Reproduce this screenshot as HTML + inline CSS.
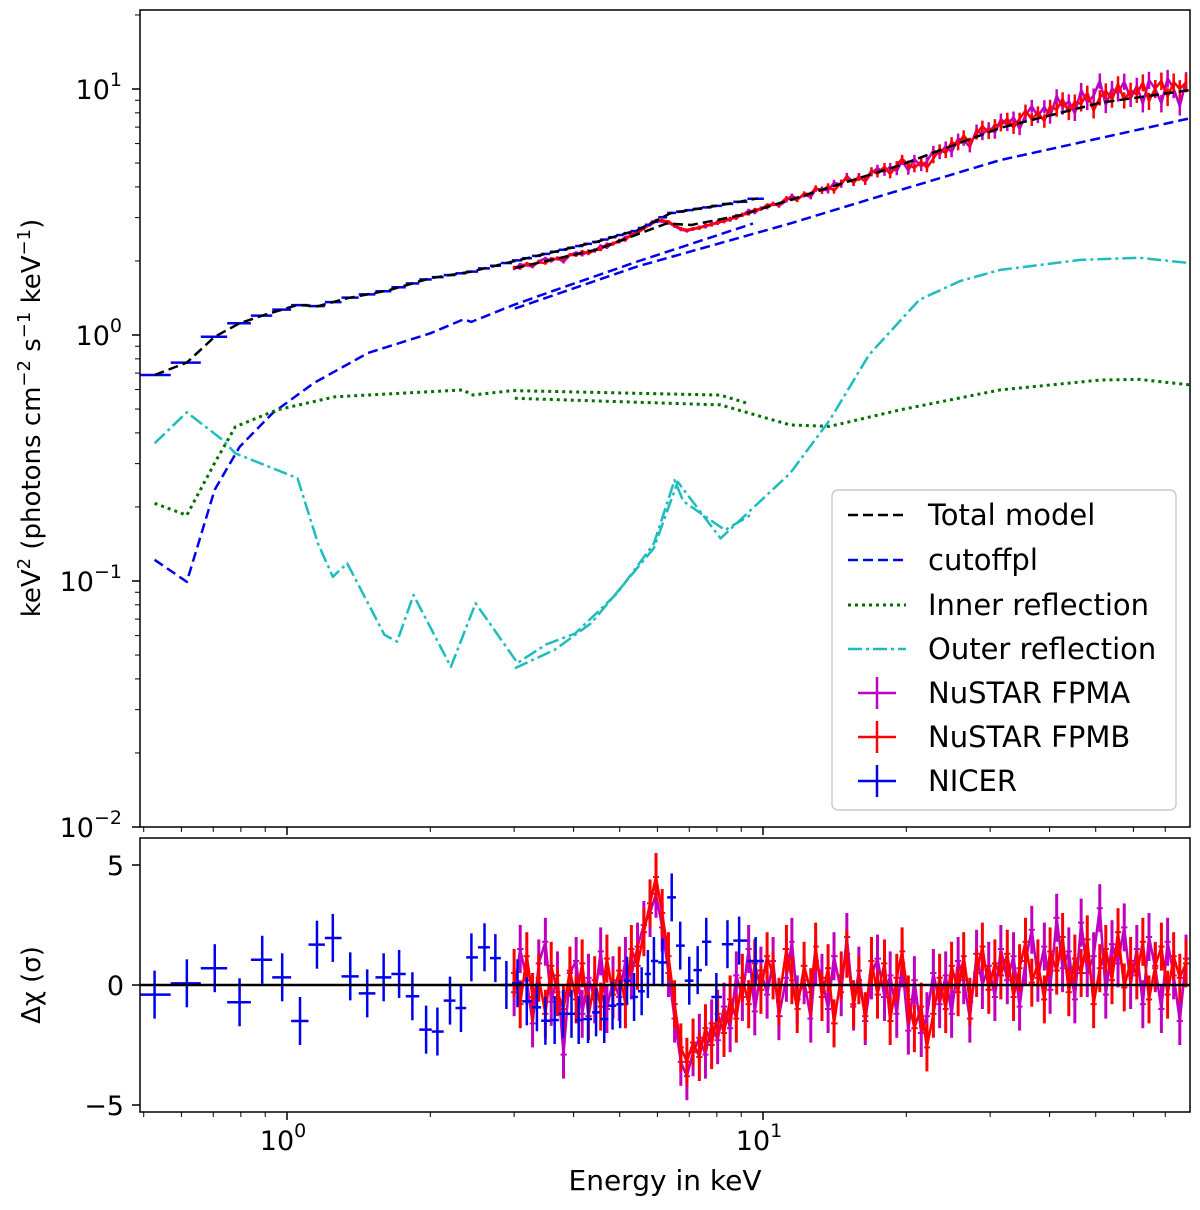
<!DOCTYPE html>
<html><head><meta charset="utf-8">
<style>
html,body{margin:0;padding:0;background:#fff;}
svg{display:block;font-family:"DejaVu Sans","Liberation Sans",sans-serif;}
</style></head>
<body>
<svg id="chart" width="1200" height="1210" viewBox="0 0 1200 1210" xmlns="http://www.w3.org/2000/svg">
<defs>
<clipPath id="clipTop"><rect x="140" y="10" width="1050" height="817"/></clipPath>
<clipPath id="clipBot"><rect x="140" y="838" width="1050" height="274"/></clipPath>
</defs>
<g id="topMarks" clip-path="url(#clipTop)"></g>
<g id="botMarks" clip-path="url(#clipBot)"></g>
<g id="axes"></g>
<rect x="140" y="10" width="1050" height="817" fill="none" stroke="#000" stroke-width="1.5"/>
<rect x="140" y="838" width="1050" height="274" fill="none" stroke="#000" stroke-width="1.5"/>
<text x="0" y="0" transform="translate(40,418) rotate(-90)" text-anchor="middle" font-size="26">keV<tspan dy="-10" font-size="18">2</tspan><tspan dy="10"> (photons cm</tspan><tspan dy="-10" font-size="18">−2</tspan><tspan dy="10"> s</tspan><tspan dy="-10" font-size="18">−1</tspan><tspan dy="10"> keV</tspan><tspan dy="-10" font-size="18">−1</tspan><tspan dy="10">)</tspan></text>
<text x="0" y="0" transform="translate(40,985) rotate(-90)" text-anchor="middle" font-size="26">Δχ (σ)</text>
<text x="665" y="1190" text-anchor="middle" font-size="28">Energy in keV</text>
<g font-size="29">
<rect x="832" y="490" width="344" height="320" rx="6" fill="#fff" fill-opacity="0.85" stroke="#ccc" stroke-width="1.5"/>
<g><line x1="848" y1="515" x2="906" y2="515" stroke="#000" stroke-width="2.5" stroke-dasharray="10,5"/><text x="928" y="525">Total model</text></g>
<g><line x1="848" y1="560" x2="906" y2="560" stroke="#0000ee" stroke-width="2.5" stroke-dasharray="10,5"/><text x="928" y="570">cutoffpl</text></g>
<g><line x1="848" y1="605" x2="906" y2="605" stroke="#007000" stroke-width="3" stroke-dasharray="3,4"/><text x="928" y="615">Inner reflection</text></g>
<g><line x1="848" y1="649" x2="906" y2="649" stroke="#1ebdbd" stroke-width="2.5" stroke-dasharray="14,4,3,4"/><text x="928" y="659">Outer reflection</text></g>
<g><line x1="858" y1="693" x2="896" y2="693" stroke="#c000c0" stroke-width="2.5"/><line x1="877" y1="677" x2="877" y2="709" stroke="#c000c0" stroke-width="2.5"/><text x="928" y="703">NuSTAR FPMA</text></g>
<g><line x1="858" y1="737" x2="896" y2="737" stroke="#ff0000" stroke-width="2.5"/><line x1="877" y1="721" x2="877" y2="753" stroke="#ff0000" stroke-width="2.5"/><text x="928" y="747">NuSTAR FPMB</text></g>
<g><line x1="858" y1="781" x2="896" y2="781" stroke="#0000ee" stroke-width="2.5"/><line x1="877" y1="765" x2="877" y2="797" stroke="#0000ee" stroke-width="2.5"/><text x="928" y="791">NICER</text></g>
</g>
</svg>
<script>
// ---------- data ----------
const totalNicerE = [0.527,0.616,0.705,0.795,0.895,1.052,1.162,1.337,1.636,1.998,2.44,2.98,3.65,4.46,5.45,6.40,8.14,9.74];
const totalNicerV = [0.688,0.772,0.984,1.116,1.206,1.324,1.31,1.41,1.52,1.70,1.81,1.99,2.18,2.39,2.67,3.13,3.37,3.59];
const totalNustarE = [3.01,4.46,6.27,7.07,8.98,11.4,19.4,31.5,51.2,78.9];
const totalNustarV = [1.87,2.22,2.84,2.80,3.07,3.54,4.9,6.95,8.8,9.9];
const cutNicerE = [0.527,0.616,0.705,0.795,0.933,1.139,1.480,2.0,2.35,2.44,2.98,3.65,5.45,9.53];
const cutNicerV = [0.122,0.0993,0.235,0.351,0.482,0.638,0.845,1.016,1.158,1.13,1.32,1.52,1.99,2.84];
const cutNustarE = [3.01,5.45,11.4,19.4,31.5,51.2,78.9];
const cutNustarV = [1.28,1.90,2.84,3.88,5.14,6.32,7.6];
const innNicerE = [0.527,0.616,0.705,0.779,0.953,1.261,2.35,2.44,2.98,8.14,9.28];
const innNicerV = [0.207,0.185,0.302,0.424,0.496,0.561,0.598,0.57,0.594,0.57,0.527];
const innNustarE = [3.01,8.14,11.4,13.8,19.4,31.5,51.2,61.8,78.9];
const innNustarV = [0.553,0.52,0.431,0.425,0.496,0.598,0.656,0.66,0.627];
const outNicerE = [0.527,0.616,0.733,0.779,1.052,1.162,1.248,1.338,1.603,1.703,1.844,2.21,2.49,3.05,3.50,4.03,4.94,5.90,6.52,6.80,8.32,9.53];
const outNicerV = [0.363,0.485,0.374,0.33,0.262,0.142,0.104,0.118,0.0604,0.0567,0.0877,0.0448,0.0812,0.0464,0.0552,0.0612,0.0891,0.142,0.257,0.211,0.161,0.188];
const outNustarE = [3.01,3.65,4.36,5.90,6.62,8.14,11.4,13.8,16.7,21.3,26.0,31.5,46.4,61.8,78.9];
const outNustarV = [0.0442,0.0525,0.0675,0.136,0.253,0.149,0.274,0.45,0.83,1.39,1.66,1.84,2.02,2.06,1.96];

const nicerE = [0.527,0.616,0.705,0.795,0.887,0.977,1.065,1.156,1.248,1.358,1.474,1.596,1.72,1.834,1.96,2.07,2.20,2.32,2.44,2.60,2.74,2.89,3.05,3.19,3.35,3.49,3.65,3.80,3.96,4.10,4.29,4.46,4.64,4.83,5.01,5.18,5.36,5.56,5.73,5.90,6.15,6.43,6.70,7.00,7.29,7.60,7.98,8.42,8.91,9.65];
const nicerRes = [-0.4,0.07,0.7,-0.72,1.05,0.32,-1.5,1.68,1.96,0.36,-0.35,0.32,0.46,-0.47,-1.86,-1.94,-0.65,-0.96,1.15,1.57,1.12,0.0,0.07,-0.68,-0.93,-1.49,-1.46,-1.2,-1.2,-1.46,-1.42,-1.14,-1.42,-0.86,-0.8,0.18,-0.5,-0.26,0.46,1.0,0.94,3.65,1.64,0.18,0.62,1.8,-0.5,1.7,1.85,1.0];

const nuE = [3.00,3.09,3.19,3.28,3.38,3.49,3.59,3.70,3.81,3.93,4.05,4.17,4.30,4.43,4.56,4.70,4.84,4.99,5.14,5.29,5.45,5.62,5.79,5.96,6.14,6.33,6.52,6.72,6.92,7.13,7.35,7.57,7.80,8.03,8.28,8.53,8.79,9.05,9.33,9.61,9.90,10.2,10.5,10.8,11.2,11.5,11.8,12.2,12.6,12.9,13.3,13.7,14.1,14.6,15.0,15.5,15.9,16.4,16.9,17.4,18.0,18.5,19.1,19.6,20.2,20.8,21.5,22.1,22.8,23.5,24.2,24.9,25.7,26.4,27.2,28.1,28.9,29.8,30.7,31.6,32.6,33.6,34.6,35.6,36.7,37.8,39.0,40.1,41.4,42.6,43.9,45.2,46.6,48.0,49.5,51.0,52.5,54.1,55.7,57.4,59.2,61.0,62.8,64.7,66.7,68.7,70.8,72.9,75.1,77.4];
const fpmbRes = [0.5,-0.8,1.2,-0.5,0.3,-1.2,0.8,-0.3,-1.0,0.6,
-0.6,0.9,-1.3,0.2,-0.9,1.1,-0.4,0.6,-0.8,1.5,
0.8,2.2,3.4,4.5,3.0,1.2,-0.8,-2.6,-3.2,-2.4,
-3.0,-1.8,-2.5,-1.2,-2.0,-0.6,-1.4,0.3,-0.8,0.9,
-0.2,1.2,0.4,-0.7,1.5,0.2,-1.0,0.8,-0.3,1.6,
-0.5,0.7,-1.6,0.4,1.3,-0.8,0.2,-1.3,1.0,-0.4,
0.9,-1.5,0.3,1.4,-0.6,-1.8,-0.9,-2.6,-1.2,0.3,
-1.0,0.8,-0.3,1.2,-0.7,0.5,1.6,-0.2,0.9,0.4,
1.3,-0.5,0.7,1.8,0.1,0.9,-0.6,1.4,0.6,2.0,
-0.3,1.1,0.5,1.9,-0.8,0.7,1.5,0.2,2.2,-0.1,
1.0,0.4,1.8,-0.6,0.8,1.6,-0.4,1.2,0.3,0.9];
const fpmaRes = [-0.3,1.5,0.2,-1.6,0.9,1.8,-0.7,0.4,-2.9,0.5,
1.0,-1.2,0.3,-0.6,1.4,-1.0,0.2,-0.5,1.0,0.4,
1.6,2.5,3.0,3.8,2.4,0.5,-1.4,-3.2,-3.8,-2.8,
-2.2,-2.9,-1.6,-2.3,-0.9,-1.8,0.4,-0.5,1.5,-1.1,
0.6,-0.4,1.0,-1.3,0.3,1.8,-0.6,0.2,-1.4,1.0,
0.3,-1.0,1.2,-0.3,2.0,-0.9,0.6,-1.5,0.4,1.1,
-0.5,0.4,-1.2,0.9,-1.9,0.2,-2.0,-1.3,0.5,-0.8,
0.4,-1.2,1.0,0.2,-1.4,1.3,0.0,0.8,-0.5,1.5,
0.2,1.2,-0.9,1.0,2.3,0.3,1.6,-0.2,2.8,0.7,
1.4,-0.6,2.6,0.5,1.2,3.2,-0.4,1.7,0.9,2.4,
0.0,1.5,-0.8,2.0,0.7,-1.0,1.8,0.4,-1.5,1.1];

const yTopTicks = [10, 1, 0.1, 0.01];
const yTopTickExp = ["1", "0", "−1", "−2"];
const yBotTicks = [5, 0, -5];
const yBotLabels = ["5", "0", "−5"];
const xMajor = [1, 10];
const xMajorExp = ["0", "1"];

// ---------- scales ----------
const NS = "http://www.w3.org/2000/svg";
const X = e => 287 + 476 * Math.log10(e);
const YT = v => 335 - 246 * Math.log10(v);
const YB = r => 985 - 24 * r;
const topG = document.getElementById('topMarks');
const botG = document.getElementById('botMarks');
const axesG = document.getElementById('axes');
function mk(tag, attrs, parent) {
  const el = document.createElementNS(NS, tag);
  for (const k in attrs) el.setAttribute(k, attrs[k]);
  parent.appendChild(el);
  return el;
}
function interp(Es, Vs, e) {
  const le = Math.log10(e);
  if (e <= Es[0]) return Vs[0];
  for (let i = 1; i < Es.length; i++) {
    if (e <= Es[i]) {
      const a = Math.log10(Es[i-1]), b = Math.log10(Es[i]);
      const t = (le - a) / (b - a);
      return Math.pow(10, Math.log10(Vs[i-1]) + t * (Math.log10(Vs[i]) - Math.log10(Vs[i-1])));
    }
  }
  return Vs[Vs.length-1];
}
function curve(Es, Vs, style, name) {
  const pts = Es.map((e, i) => X(e).toFixed(1) + ',' + YT(Vs[i]).toFixed(1)).join(' ');
  const el = mk('polyline', Object.assign({points: pts, fill: 'none', 'stroke-linejoin': 'round'}, style), topG);
  
  
}
function halfW(Es, i) {
  const l = Math.log10(Es[i]);
  const lp = i > 0 ? Math.log10(Es[i-1]) : l - (Math.log10(Es[1]) - l);
  const ln = i < Es.length - 1 ? Math.log10(Es[i+1]) : l + (l - Math.log10(Es[i-1]));
  return [Math.pow(10, (lp + l) / 2), Math.pow(10, (l + ln) / 2)];
}

// ---------- NuSTAR data ----------
function nustar(res, color, name) {
  const gT = mk('g', {}, topG);
  
  
  const gB = mk('g', {}, botG);
  
  
  let ptsT = [], ptsB = [];
  nuE.forEach((e, i) => {
    const frac = 0.015 + 0.08 * Math.max(0, Math.log10(e / 10));
    const m = interp(totalNustarE, totalNustarV, e);
    const v = m * (1 + res[i] * frac);
    const [lo, hi] = halfW(nuE, i);
    ptsT.push(X(e).toFixed(1) + ',' + YT(v).toFixed(1));
    mk('line', {x1: X(e), x2: X(e), y1: YT(v * (1 + frac)), y2: YT(v * (1 - frac)), stroke: color, 'stroke-width': 2.5}, gT);
    ptsB.push(X(e).toFixed(1) + ',' + YB(res[i]).toFixed(1));
    mk('line', {x1: X(e), x2: X(e), y1: YB(res[i] + 1), y2: YB(res[i] - 1), stroke: color, 'stroke-width': 3}, gB);
    mk('line', {x1: X(lo), x2: X(hi), y1: YB(res[i]), y2: YB(res[i]), stroke: color, 'stroke-width': 2}, gB);
  });
  mk('polyline', {points: ptsT.join(' '), fill: 'none', stroke: color, 'stroke-width': 2.5}, gT);
  mk('polyline', {points: ptsB.join(' '), fill: 'none', stroke: color, 'stroke-width': 2.5}, gB);
}
nustar(fpmaRes, '#c000c0', 'fpma');
nustar(fpmbRes, '#ff0000', 'fpmb');

// ---------- NICER data ----------
const gNT = mk('g', {}, topG);


const gNB = mk('g', {}, botG);


nicerE.forEach((e, i) => {
  const [lo, hi] = halfW(nicerE, i);
  const v = interp(totalNicerE, totalNicerV, e);
  mk('line', {x1: X(lo), x2: X(hi), y1: YT(v), y2: YT(v), stroke: '#0000ee', 'stroke-width': 2.5}, gNT);
  mk('line', {x1: X(e), x2: X(e), y1: YB(nicerRes[i] + 1), y2: YB(nicerRes[i] - 1), stroke: '#0000ee', 'stroke-width': 2.5}, gNB);
  mk('line', {x1: X(lo), x2: X(hi), y1: YB(nicerRes[i]), y2: YB(nicerRes[i]), stroke: '#0000ee', 'stroke-width': 2.5}, gNB);
});

// ---------- model curves ----------
curve(cutNicerE, cutNicerV, {stroke: '#0000ee', 'stroke-width': 2.5, 'stroke-dasharray': '10,5'}, 'cutoffpl-nicer');
curve(cutNustarE, cutNustarV, {stroke: '#0000ee', 'stroke-width': 2.5, 'stroke-dasharray': '10,5'}, 'cutoffpl-nustar');
curve(innNicerE, innNicerV, {stroke: '#007000', 'stroke-width': 3, 'stroke-dasharray': '3,4'}, 'inner-reflection-nicer');
curve(innNustarE, innNustarV, {stroke: '#007000', 'stroke-width': 3, 'stroke-dasharray': '3,4'}, 'inner-reflection-nustar');
curve(outNicerE, outNicerV, {stroke: '#1ebdbd', 'stroke-width': 2.5, 'stroke-dasharray': '14,4,3,4'}, 'outer-reflection-nicer');
curve(outNustarE, outNustarV, {stroke: '#1ebdbd', 'stroke-width': 2.5, 'stroke-dasharray': '14,4,3,4'}, 'outer-reflection-nustar');
curve(totalNicerE, totalNicerV, {stroke: '#000', 'stroke-width': 2.5, 'stroke-dasharray': '10,5'}, 'total-model-nicer');
curve(totalNustarE, totalNustarV, {stroke: '#000', 'stroke-width': 2.5, 'stroke-dasharray': '10,5'}, 'total-model-nustar');

const zl = mk('line', {x1: 140, x2: 1190, y1: YB(0), y2: YB(0), stroke: '#000', 'stroke-width': 2.5}, botG);



// ---------- axes ----------
yTopTicks.forEach((t, i) => {
  const y = YT(t);
  mk('line', {x1: 132, x2: 140, y1: y, y2: y, stroke: '#000', 'stroke-width': 1.5}, axesG);
  const tx = mk('text', {x: 122, y: y + 10, 'text-anchor': 'end', 'font-size': 27}, axesG);
  
  
  tx.innerHTML = '10<tspan dy="-13" font-size="19">' + yTopTickExp[i] + '</tspan>';
  for (let k = 2; k <= 9; k++) {
    const ym = YT(t * k);
    if (ym >= 10 && ym <= 827) mk('line', {x1: 135, x2: 140, y1: ym, y2: ym, stroke: '#000', 'stroke-width': 1}, axesG);
  }
});
yBotTicks.forEach((t, i) => {
  const y = YB(t);
  mk('line', {x1: 132, x2: 140, y1: y, y2: y, stroke: '#000', 'stroke-width': 1.5}, axesG);
  const tx = mk('text', {x: 124, y: y + 10, 'text-anchor': 'end', 'font-size': 27}, axesG);
  
  
  tx.textContent = yBotLabels[i];
});
[0.1, 1, 10].forEach(dec => {
  for (let k = 1; k <= 9; k++) {
    const e = dec * k;
    const x = X(e);
    if (x < 140 || x > 1190) continue;
    const len = k === 1 ? 8 : 5;
    mk('line', {x1: x, x2: x, y1: 827, y2: 827 + len, stroke: '#000', 'stroke-width': k === 1 ? 1.5 : 1}, axesG);
    mk('line', {x1: x, x2: x, y1: 1112, y2: 1112 + len, stroke: '#000', 'stroke-width': k === 1 ? 1.5 : 1}, axesG);
  }
});
xMajor.forEach((e, i) => {
  const tx = mk('text', {x: X(e) - 4, y: 1150, 'text-anchor': 'middle', 'font-size': 27}, axesG);
  
  
  tx.innerHTML = '10<tspan dy="-13" font-size="19">' + xMajorExp[i] + '</tspan>';
});
</script>
</body></html>
